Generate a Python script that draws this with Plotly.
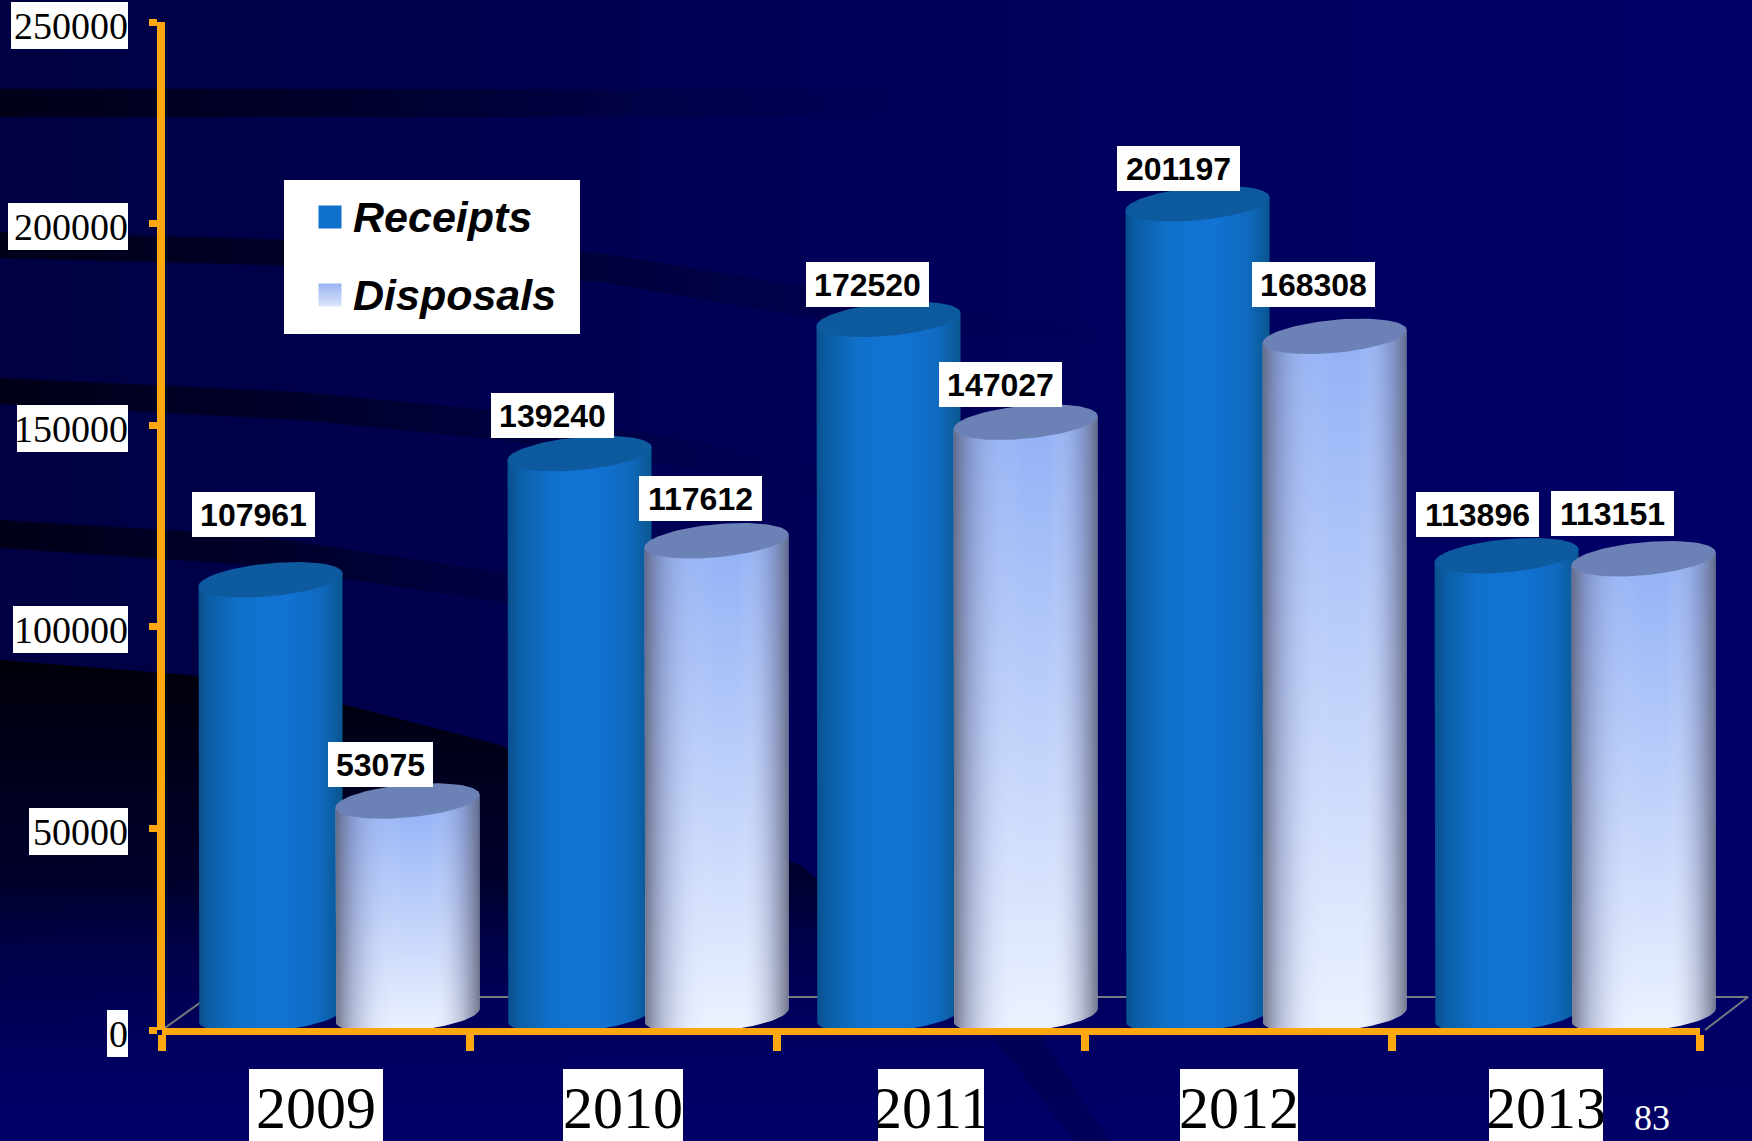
import numpy as np
import plotly.graph_objects as go

# Chart data
years = ["2009", "2010", "2011", "2012", "2013"]
receipts = [107961, 139240, 172520, 201197, 113896]
disposals = [53075, 117612, 147027, 168308, 113151]
y_ticks = [0, 50000, 100000, 150000, 200000, 250000]

# Page and axis geometry, in pixels
W, H = 1752, 1141
AX_L, AX_R, AX_T, AX_B = 162, 1700, 22, 1030
PX_X = 5 / (AX_R - AX_L)          # category units per pixel
PX_Y = 250000 / (AX_B - AX_T)     # value units per pixel

ORANGE = "#ffa70f"
SERIF = "Liberation Serif"
SANS = "Liberation Sans"

# Cylinder geometry, in pixels
HALF_W, CAP_B, CAP_TILT = 72, 16.5, 6.5
DEPTH_X, DEPTH_Y = 25.5, 15
DEPTH_SPREAD = 1.4                # perspective: the pairs fan out slightly
SERIES_GAP = 68.5

# Offset of each value tag from the centre of its cylinder top, in pixels
tag_dx = [[-17, -27, -21, -19, -29], [-27, -16, -25, -21, -31]]
tag_dy = [[65, 38, 35, 35, 41], [37, 42, 38, 52, 45]]

# Width of the white box behind each y tick label, in pixels
tick_box_w = [21, 99, 115, 111, 120, 117]
year_box_w = [134, 120, 106, 118, 114]

# Dark bands of the backdrop: (x, top y, bottom y, fade-out x), in page pixels
bands = [
    ([0, 400, 900], [89, 89, 89], [117, 117, 117], 950),
    ([0, 300, 600, 870, 1120], [232, 240, 253, 297, 330], [258, 266, 282, 328, 345], 1120),
    ([0, 300, 500, 715, 850], [378, 392, 411, 445, 480], [404, 420, 440, 472, 505], 850),
    ([0, 250, 500, 720], [520, 535, 572, 640], [548, 565, 602, 670], 760),
]


def x_at(px):
    return -0.5 + (px - AX_L) * PX_X


def y_at(px):
    return (AX_B - px) * PX_Y


def cylinder(cx, value):
    """Outline of a cylinder's body and its top cap, in axis units."""
    top = value + DEPTH_Y * PX_Y
    base = DEPTH_Y * PX_Y
    t = np.linspace(0, 2 * np.pi, 90)
    ex = HALF_W * PX_X * np.cos(t)
    ey = (-CAP_B * np.sin(t) + CAP_TILT * np.cos(t)) * PX_Y
    low = np.linspace(np.pi, 2 * np.pi, 45)
    bx = HALF_W * PX_X * np.cos(low)
    by = (CAP_B * np.sin(low) + CAP_TILT * np.cos(low)) * PX_Y
    body_x = np.concatenate([[bx[0]], bx, [bx[-1]], [bx[0]]]) + cx
    body_y = np.concatenate(
        [[top + by[0]], base + by, [top + by[-1]], [top + by[0]]]
    )
    return body_x, body_y, ex + cx, ey + top, top


def poly(x, y, gradient, axis="bg"):
    ref = {"xaxis": "x", "yaxis": "y"} if axis == "bg" else {"xaxis": "x2", "yaxis": "y2"}
    return go.Scatter(
        x=list(x), y=list(y), mode="lines", fill="toself", line=dict(width=0),
        fillgradient=gradient, hoverinfo="skip", showlegend=False, **ref,
    )


def grad(kind, stops, start=None, stop=None):
    g = dict(type=kind, colorscale=stops)
    if start is not None:
        g.update(start=start, stop=stop)
    return g


fig = go.Figure()

# Backdrop, drawn on a page-sized pixel axis
page_x, page_y = [0, W, W, 0, 0], [0, 0, H, H, 0]
fig.add_trace(poly(page_x, page_y, grad("horizontal", [[0, "#000042"], [0.5, "#00005a"], [1, "#000068"]])))
for bx_, top_, bot_, fade in bands:
    fig.add_trace(poly(
        bx_ + bx_[::-1], top_ + bot_[::-1],
        grad("horizontal", [[0, "rgba(0,0,22,0.95)"], [0.45, "rgba(0,0,28,0.55)"], [1, "rgba(0,0,60,0)"]], 0, fade),
    ))
fig.add_trace(poly(
    [0, 250, 500, 800, 1000, 1105, 0], [660, 680, 745, 865, 1028, 1141, 1141],
    grad("vertical", [[0, "rgba(0,0,10,1)"], [0.55, "rgba(0,0,40,0.8)"], [1, "rgba(0,0,70,0)"]], 660, 1090),
))
fig.add_trace(poly(
    [0, W, W, 0], [880, 880, 1141, 1141],
    grad("vertical", [[0, "rgba(0,0,100,0)"], [1, "rgba(0,0,102,1)"]], 880, 1100),
))
fig.add_trace(go.Scatter(
    x=[990, 1040, 1109, 1075], y=[1034, 1034, 1141, 1141], mode="lines", fill="toself",
    fillcolor="rgba(0,0,64,0.35)", line=dict(width=0), xaxis="x", yaxis="y",
    hoverinfo="skip", showlegend=False,
))

# White panel of the series key
KEY_L, KEY_R, KEY_T, KEY_B = 284, 580, 180, 334
fig.add_trace(go.Scatter(
    x=[KEY_L, KEY_R, KEY_R, KEY_L], y=[KEY_T, KEY_T, KEY_B, KEY_B], mode="lines", fill="toself",
    fillcolor="white", line=dict(width=0), xaxis="x", yaxis="y", hoverinfo="skip", showlegend=False,
))
key_names = ["Receipts", "Disposals"]
key_y = [217, 295]
fig.add_trace(go.Scatter(
    x=[330], y=[key_y[0]], mode="markers", xaxis="x", yaxis="y", hoverinfo="skip", showlegend=False,
    marker=dict(symbol="square", size=23, color="#1071cc", line=dict(width=0)),
))
fig.add_trace(go.Scatter(
    x=[330], y=[key_y[1]], mode="markers", xaxis="x", yaxis="y", hoverinfo="skip", showlegend=False,
    marker=dict(symbol="square", size=23, color="#98b3f0", line=dict(width=0),
                gradient=dict(type="vertical", color="#dbe5fb")),
))
for name, ky in zip(key_names, key_y):
    fig.add_annotation(
        xref="x", yref="y", x=351, y=ky, xanchor="left", text=name, showarrow=False,
        font=dict(family=SANS, size=43, color="black", weight="bold", style="italic"),
    )

# Floor of the chart box
floor_x = [x_at(AX_L), x_at(AX_L + 46), x_at(AX_R + 48), x_at(AX_R + 5)]
floor_y = [0, 33 * PX_Y, 33 * PX_Y, 0]
fig.add_trace(go.Scatter(
    x=floor_x, y=floor_y, mode="lines", line=dict(color="#77777f", width=2),
    xaxis="x2", yaxis="y2", hoverinfo="skip", showlegend=False,
))

# Cylinders, one pair per year
RECEIPT_SIDE = [[0, "#0a4f8e"], [0.08, "#0b5ea6"], [0.3, "#1071cc"], [0.6, "#1273d5"], [0.85, "#0f69be"], [1, "#0a568f"]]
EDGE_SHADE = [
    [0, "rgba(85,88,110,0.8)"], [0.12, "rgba(110,120,160,0.45)"], [0.3, "rgba(180,190,225,0.15)"],
    [0.48, "rgba(255,255,255,0)"], [0.66, "rgba(255,255,255,0)"],
    [0.86, "rgba(120,125,160,0.32)"], [1, "rgba(85,88,110,0.78)"],
]
for i in range(len(years)):
    pair_centre = i + (DEPTH_X + (i - 1.6) * DEPTH_SPREAD) * PX_X
    for s, (vals, sign) in enumerate([(receipts, -1), (disposals, 1)]):
        centre = pair_centre + sign * SERIES_GAP * PX_X
        bx_, by_, cx_, cy_, top = cylinder(centre, vals[i])
        left, right = centre - HALF_W * PX_X, centre + HALF_W * PX_X
        if s == 0:
            fig.add_trace(poly(bx_, by_, grad("horizontal", RECEIPT_SIDE, left, right), "chart"))
            cap = "#0d5a9f"
        else:
            fig.add_trace(poly(bx_, by_, grad("vertical", [[0, "#ecf2ff"], [1, "#93b1f6"]], 0, top), "chart"))
            fig.add_trace(poly(bx_, by_, grad("horizontal", EDGE_SHADE, left, right), "chart"))
            cap = "#6c82b6"
        fig.add_trace(go.Scatter(
            x=cx_, y=cy_, mode="lines", fill="toself", fillcolor=cap, line=dict(width=0),
            xaxis="x2", yaxis="y2", hoverinfo="skip", showlegend=False,
        ))
        fig.add_annotation(
            xref="x2", yref="y2", x=centre, y=top, xshift=tag_dx[s][i], yshift=tag_dy[s][i],
            text=str(vals[i]), showarrow=False, bgcolor="white", borderwidth=0, borderpad=0,
            width=123 if vals[i] >= 100000 else 105, height=45,
            font=dict(family=SANS, size=32, color="black", weight="bold"),
        )

# A trace on the visible axes so that they are drawn above the cylinders
fig.add_trace(go.Scatter(
    x=[None], y=[None], mode="markers", xaxis="x3", yaxis="y3", hoverinfo="skip", showlegend=False,
))

# Y tick labels on white boxes
for tick, box_w in zip(y_ticks, tick_box_w):
    fig.add_annotation(
        xref="x", yref="y2", x=128, y=tick, xanchor="right", yshift=-3, text=str(tick),
        showarrow=False, bgcolor="white", width=box_w, height=47, align="right",
        font=dict(family=SERIF, size=38, color="black"), borderpad=0, borderwidth=0,
    )

# Year labels on white boxes resting on the bottom of the page
for i, (year, box_w) in enumerate(zip(years, year_box_w)):
    fig.add_annotation(
        xref="x2", yref="y", x=i, y=1105, text=year, showarrow=False,
        bgcolor="white", width=box_w, height=72, valign="bottom", borderpad=0, borderwidth=0,
        font=dict(family=SERIF, size=60, color="black"),
    )

# Slide number
fig.add_annotation(
    xref="x", yref="y", x=1652, y=1118, text="83", showarrow=False,
    font=dict(family=SERIF, size=36, color="white"),
)

fig.update_layout(
    width=W, height=H, margin=dict(l=0, r=0, t=0, b=0),
    paper_bgcolor="#000050", plot_bgcolor="rgba(0,0,0,0)",
    showlegend=False,
    xaxis=dict(domain=[0, 1], range=[0, W], visible=False, fixedrange=True),
    yaxis=dict(domain=[0, 1], range=[H, 0], visible=False, fixedrange=True),
    # Page-sized axes sharing the scale of the visible ones, so cylinders can pass their ends
    xaxis2=dict(domain=[0, 1], range=[x_at(0), x_at(W)], visible=False, anchor="y2", fixedrange=True),
    yaxis2=dict(domain=[0, 1], range=[y_at(H), y_at(0)], visible=False, anchor="x2", fixedrange=True),
    xaxis3=dict(
        domain=[AX_L / W, AX_R / W], range=[-0.5, 4.5], anchor="free", position=1 - 1030.5 / H,
        showgrid=False, zeroline=False,
        showline=True, linecolor=ORANGE, linewidth=7, tickmode="array",
        tickvals=[-0.5, 0.5, 1.5, 2.5, 3.5, 4.5], ticktext=[""] * 6,
        ticks="outside", ticklen=16, tickwidth=8, tickcolor=ORANGE,
    ),
    yaxis3=dict(
        domain=[1 - AX_B / H, 1 - AX_T / H], range=[0, 250000], anchor="free", position=161 / W,
        showgrid=False, zeroline=False,
        showline=True, linecolor=ORANGE, linewidth=8, tickmode="array",
        tickvals=y_ticks, ticktext=[""] * 6,
        ticks="outside", ticklen=8, tickwidth=7, tickcolor=ORANGE,
    ),
)

fig.write_html("out.html")
